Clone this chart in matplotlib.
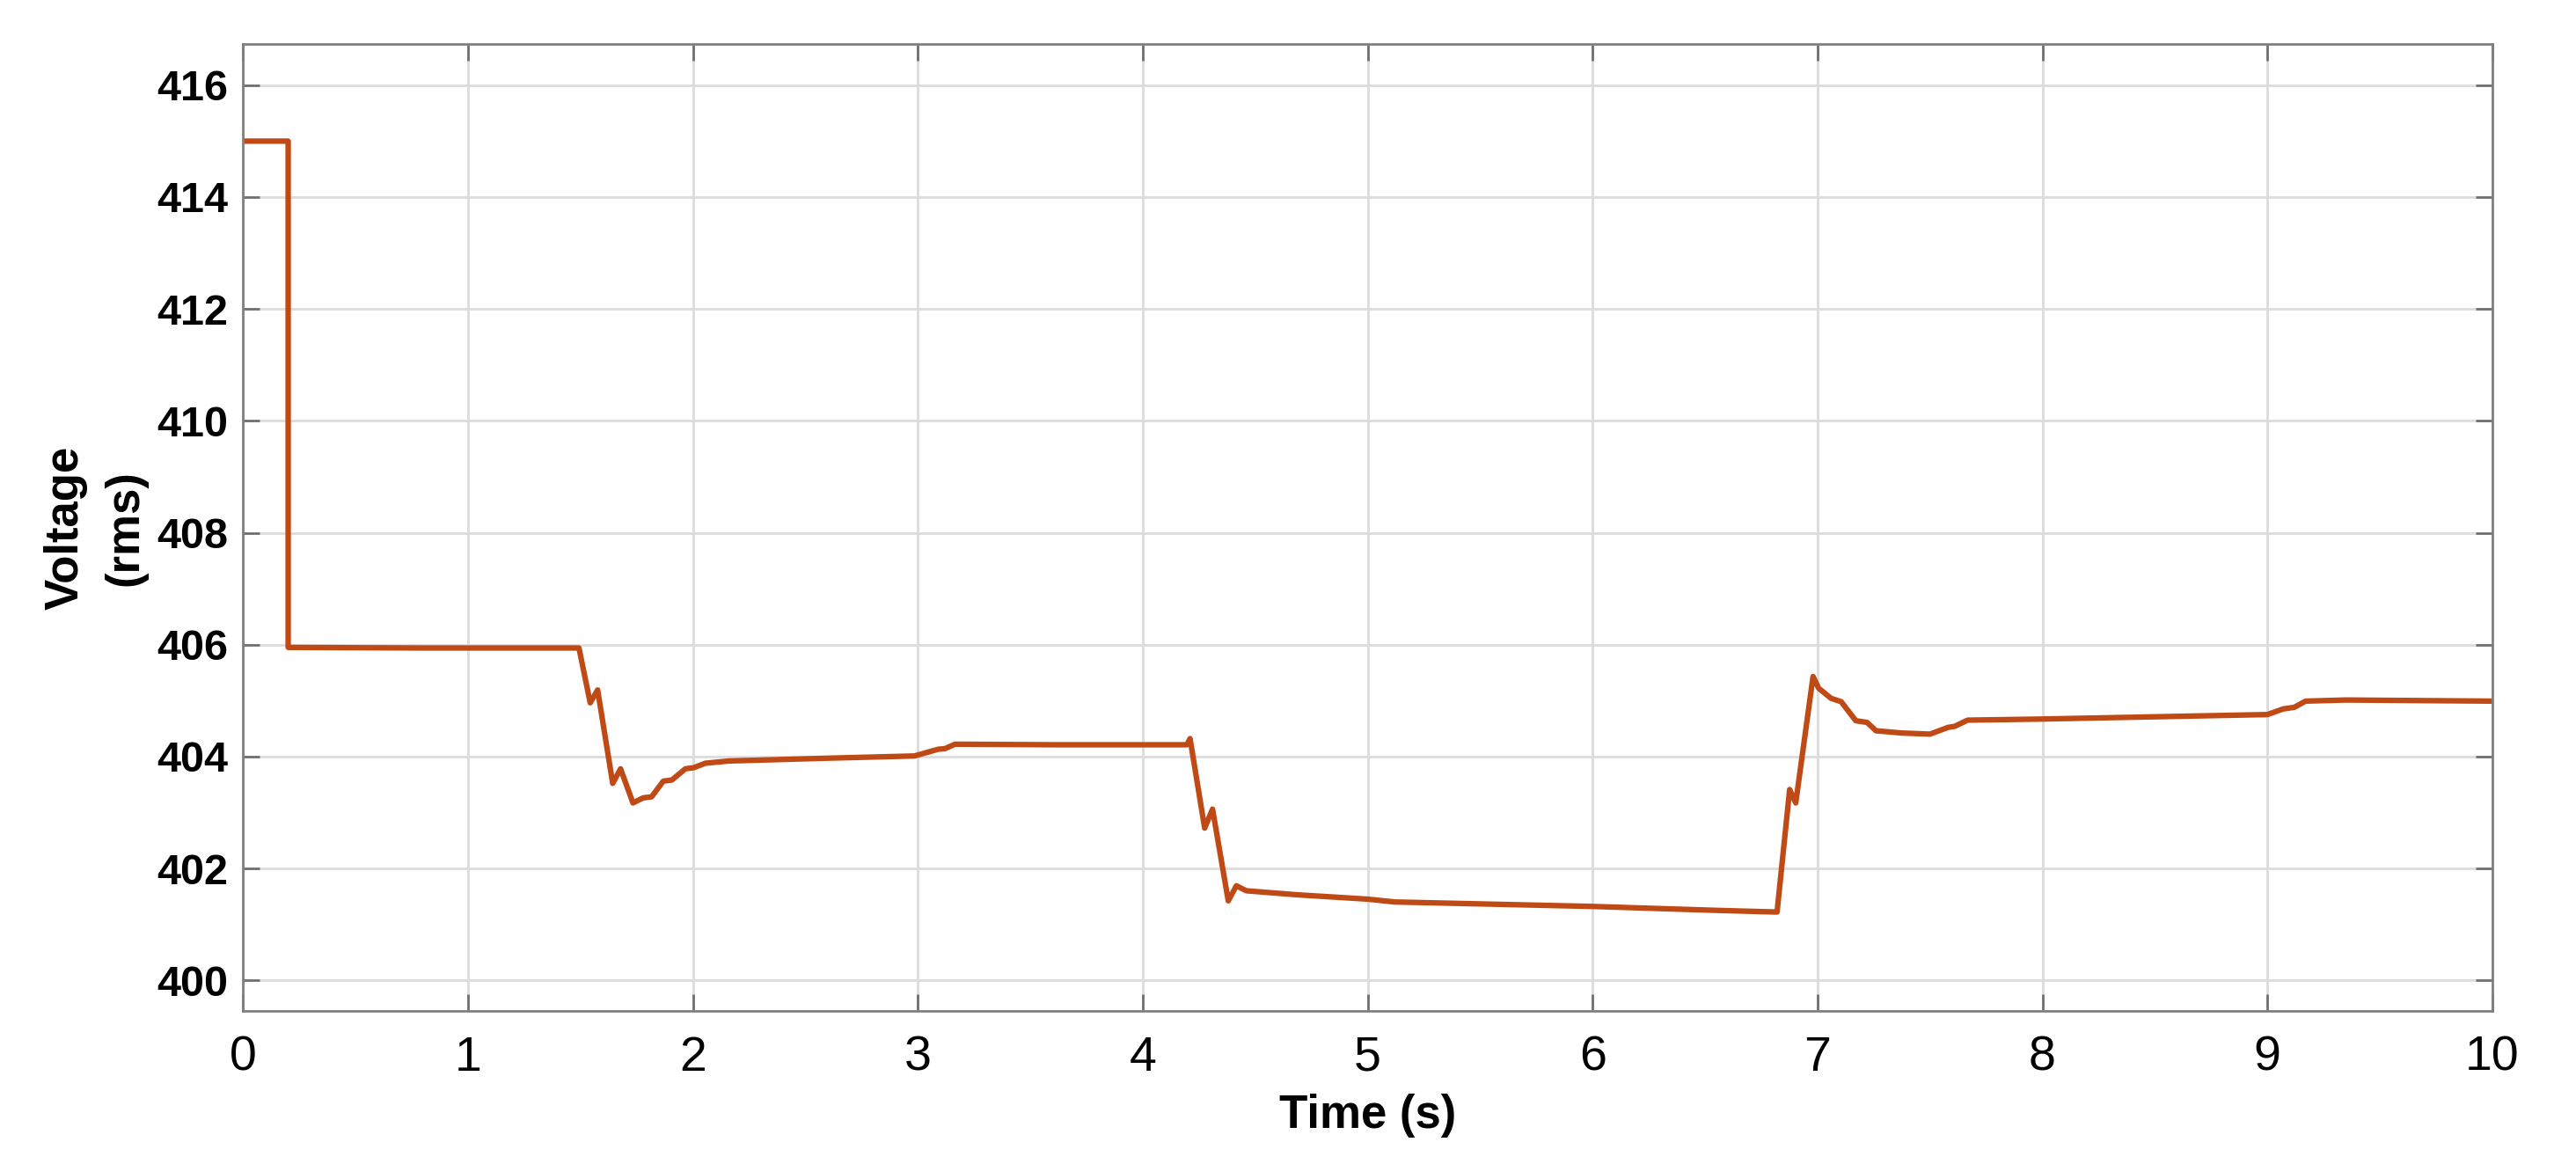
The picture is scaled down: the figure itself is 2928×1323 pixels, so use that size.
import matplotlib
matplotlib.use("Agg")
import matplotlib.pyplot as plt
import numpy as np

# time (s) and rms voltage
t = [0.0, 0.2, 0.2, 0.8, 1.493, 1.543, 1.576, 1.643, 1.678, 1.733, 1.778, 1.816,
     1.868, 1.906, 1.966, 2.003, 2.055, 2.16, 2.6, 2.985, 3.09, 3.12, 3.165, 3.61,
     4.196, 4.21, 4.275, 4.31, 4.38, 4.416, 4.46, 4.68, 5.0, 5.12, 6.0, 6.55, 6.82,
     6.876, 6.903, 6.98, 7.005, 7.06, 7.105, 7.17, 7.22, 7.26, 7.375, 7.5, 7.58,
     7.61, 7.667, 8.0, 9.0, 9.07, 9.12, 9.17, 9.35, 10.0]
voltage = [415.0, 415.0, 405.95, 405.94, 405.94, 404.96, 405.19, 403.52, 403.78, 403.17,
           403.26, 403.28, 403.56, 403.58, 403.78, 403.80, 403.88, 403.92, 403.97, 404.01,
           404.13, 404.14, 404.22, 404.21, 404.21, 404.32, 402.72, 403.06, 401.42, 401.69,
           401.60, 401.53, 401.45, 401.40, 401.32, 401.25, 401.22, 403.41, 403.17, 405.43,
           405.22, 405.04, 404.98, 404.64, 404.61, 404.46, 404.42, 404.40, 404.52, 404.54,
           404.65, 404.67, 404.75, 404.85, 404.88, 404.99, 405.01, 404.99]

xticks = np.arange(0, 11, 1)
yticks = np.arange(400, 417, 2)

fig = plt.figure(figsize=(29.28, 13.23), dpi=100)
ax = fig.add_axes([0.0944, 0.1314, 0.8731, 0.8305])

ax.plot(t, voltage, color="#C04A15", linewidth=4.5, solid_joinstyle="round")

ax.set_xlim(0, 10)
ax.set_ylim(399.45, 416.73)
ax.set_xticks(xticks)
ax.set_yticks(yticks)
ax.grid(True, color="#DCDCDC", linewidth=2)
ax.set_axisbelow(True)

for s in ax.spines.values():
    s.set_color("#808080")
    s.set_linewidth(2)
ax.tick_params(direction="in", length=14, width=2, color="#707070",
               top=True, right=True)
ax.tick_params(axis="x", labelsize=40, pad=20)
ax.tick_params(axis="y", labelsize=35, pad=12)
for lab in ax.get_xticklabels():
    lab.set_fontfamily("Liberation Sans")
for lab in ax.get_yticklabels():
    lab.set_fontfamily("Liberation Sans")
    lab.set_fontweight("bold")

ax.set_xlabel("Time (s)", fontsize=38, fontweight="bold",
              family="Liberation Sans", labelpad=10)
ax.set_ylabel("Voltage\n(rms)", fontsize=38, fontweight="bold",
              family="Liberation Sans", labelpad=8, linespacing=1.45)

fig.savefig("out.png", dpi=100, facecolor="white")
